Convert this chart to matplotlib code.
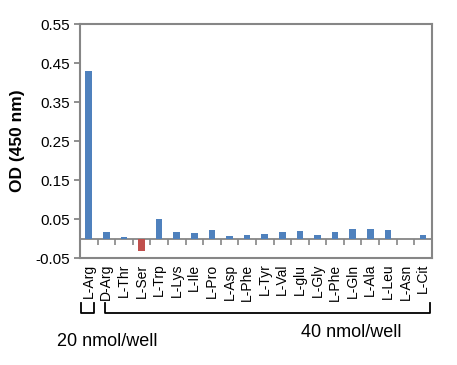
import matplotlib
matplotlib.use("Agg")
import matplotlib.pyplot as plt
import matplotlib.transforms as mtransforms
import numpy as np

categories = ["L-Arg", "D-Arg", "L-Thr", "L-Ser", "L-Trp", "L-Lys", "L-Ile", "L-Pro",
              "L-Asp", "L-Phe", "L-Tyr", "L-Val", "L-glu", "L-Gly", "L-Phe", "L-Gln",
              "L-Ala", "L-Leu", "L-Asn", "L-Cit"]
od_values = [0.430, 0.016, 0.003, -0.033, 0.049, 0.018, 0.013, 0.021,
             0.007, 0.010, 0.012, 0.018, 0.020, 0.010, 0.018, 0.025,
             0.025, 0.022, 0.000, 0.010]
y_ticks = [-0.05, 0.05, 0.15, 0.25, 0.35, 0.45, 0.55]
group_labels = ["20 nmol/well", "40 nmol/well"]

plt.rcParams['font.family'] = ['Liberation Sans', 'DejaVu Sans']

BLUE = "#4F81BD"
RED = "#C0504D"
GRAY = "#868686"

fig = plt.figure(figsize=(4.57, 3.65), dpi=100)
ax = fig.add_axes([0.175, 0.293, 0.770, 0.641])

x = np.arange(len(categories))
colors = [RED if v < 0 else BLUE for v in od_values]
ax.bar(x, od_values, width=0.38, color=colors, zorder=3)

ax.set_xlim(-0.5, len(categories) - 0.5)
ax.set_ylim(-0.05, 0.55)
ax.set_yticks(y_ticks)
ax.set_yticklabels([f"{t:.2f}" for t in y_ticks], fontsize=11)
ax.set_xticks(x)
ax.set_xticklabels(categories, rotation=90, fontsize=10)
ax.tick_params(axis='x', length=0, pad=4)
ax.tick_params(axis='y', length=4, width=1.3, color=GRAY, direction='out', pad=3)
for s in ax.spines.values():
    s.set_color(GRAY)
    s.set_linewidth(1.5)

ax.set_ylabel("OD (450 nm)", fontsize=12.5, fontweight='bold', labelpad=8)

# zero line with category boundary ticks
zero_frac = (0 - (-0.05)) / (0.55 - (-0.05))
sec = ax.secondary_xaxis(zero_frac)
sec.set_xticks(np.arange(len(categories) + 1) - 0.5)
sec.set_xticklabels([])
sec.tick_params(axis='x', length=4, width=1.2, color=GRAY, direction='out')
sec.spines['bottom'].set_color(GRAY)
sec.spines['bottom'].set_linewidth(1.3)

# brackets
trans = mtransforms.blended_transform_factory(ax.transData, ax.transAxes)
y_top, y_bot = -0.192, -0.235
for x0, x1 in [(-0.44, 0.30), (0.92, 19.38)]:
    ax.plot([x0, x0, x1, x1], [y_top, y_bot, y_bot, y_top], color='black',
            lw=1.3, transform=trans, clip_on=False)

ax.text(1.03, -0.358, group_labels[0], transform=trans, ha='center', va='center', fontsize=13)
ax.text(14.9, -0.32, group_labels[1], transform=trans, ha='center', va='center', fontsize=13)

fig.savefig("out.png", dpi=100)
